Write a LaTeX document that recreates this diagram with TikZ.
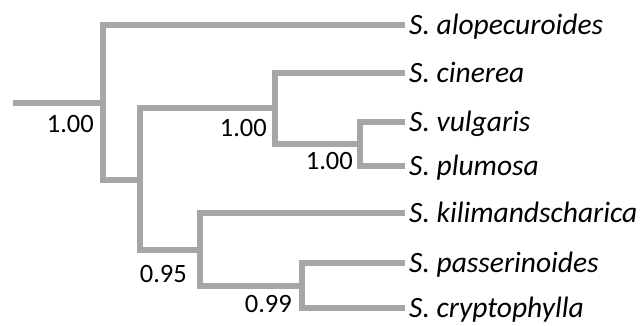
\documentclass[tikz,border=0pt]{standalone}
\usepackage{fontspec}
\setmainfont{Carlito}
\definecolor{branch}{RGB}{166,166,166}
\begin{document}
\begin{tikzpicture}[x=1pt,y=-1pt,
  br/.style={draw=branch,line width=5.5pt},
  taxon/.style={anchor=base west,inner sep=0pt,font=\fontsize{29.5}{31}\selectfont\itshape},
  supp/.style={anchor=east,inner sep=0pt,font=\fontsize{26.5}{28}\selectfont}]
\useasboundingbox (0,0) rectangle (644,325);
% internal nodes
\coordinate (base) at (13,103);
\coordinate (n1) at (103,103);
\coordinate (n2) at (140,180);
\coordinate (n3) at (275,108);
\coordinate (n4) at (360,144);
\coordinate (n5) at (200,250);
\coordinate (n6) at (302,286);
% tips
\coordinate (t1) at (405,25);
\coordinate (t2) at (405,73);
\coordinate (t3) at (405,122);
\coordinate (t4) at (405,166);
\coordinate (t5) at (405,213);
\coordinate (t6) at (405,263);
\coordinate (t7) at (405,308);
\node[taxon] (l1) at (409,34.5) {S. alopecuroides};
\node[taxon] (l2) at (409,82.5) {S. cinerea};
\node[taxon] (l3) at (409,131.5) {S. vulgaris};
\node[taxon] (l4) at (409,175.5) {S. plumosa};
\node[taxon] (l5) at (409,222.5) {S. kilimandscharica};
\node[taxon] (l6) at (409,272.5) {S. passerinoides};
\node[taxon] (l7) at (409,317.5) {S. cryptophylla};
% branches
\draw[br] (base) -- (n1);
\draw[br] (n1) |- (t1);
\draw[br] (n1) |- (n2);
\draw[br] (n2) |- (n3);
\draw[br] (n2) |- (n5);
\draw[br] (n3) |- (t2);
\draw[br] (n3) |- (n4);
\draw[br] (n4) |- (t3);
\draw[br] (n4) |- (t4);
\draw[br] (n5) |- (t5);
\draw[br] (n5) |- (n6);
\draw[br] (n6) |- (t6);
\draw[br] (n6) |- (t7);
% support values
\node[supp] (s1) at (94,124) {1.00};
\node[supp] (s2) at (267,128) {1.00};
\node[supp] (s3) at (353,161) {1.00};
\node[supp] (s4) at (187,274) {0.95};
\node[supp] (s5) at (292,304) {0.99};
\end{tikzpicture}
\end{document}
